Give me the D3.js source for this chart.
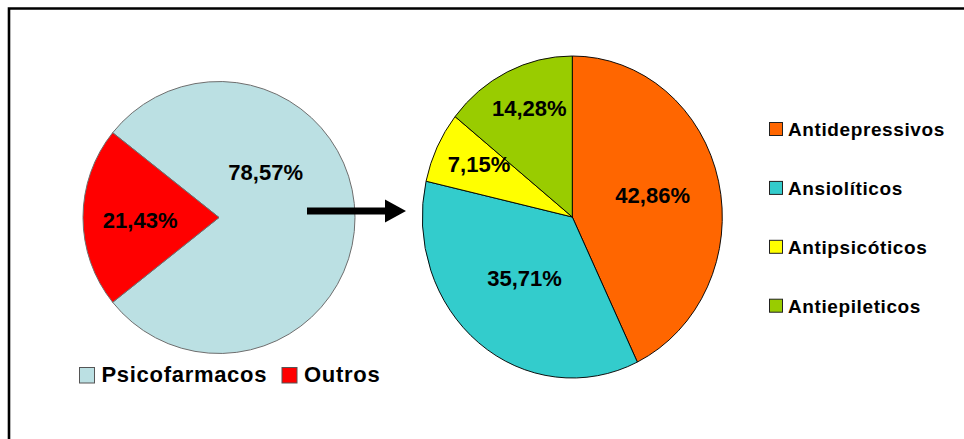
<!DOCTYPE html>
<html>
<head>
<meta charset="utf-8">
<script src="https://cdn.jsdelivr.net/npm/d3@7/dist/d3.min.js"></script>
<style>
  html, body { margin: 0; padding: 0; background: #fff; }
  svg { display: block; }
  text { font-family: "Liberation Sans", Arial, Helvetica, sans-serif; font-weight: bold; fill: #000; }
</style>
</head>
<body>
<svg id="chart" width="964" height="439"></svg>
<script>
// Share of prescriptions: psychotropic drugs vs. others
const groupCategories = ["Psicofarmacos", "Outros"];
const groupValues = [78.57, 21.43];
const groupColors = ["#BBE0E3", "#FF0000"];

// Breakdown of psychotropic drugs by class
const classCategories = ["Antidepressivos", "Ansiolíticos", "Antipsicóticos", "Antiepileticos"];
const classValues = [42.86, 35.71, 7.15, 14.28];
const classColors = ["#FF6600", "#33CCCC", "#FFFF00", "#99CC00"];

const svg = d3.select("#chart");
const ptBR = d3.formatLocale({ decimal: ",", thousands: ".", grouping: [3], currency: ["", ""] });
const pct = v => ptBR.format(".2f")(v) + "%";
const deg = d => d * Math.PI / 180;

// Outer frame (only top and left edges fall inside the view)
svg.append("path")
  .attr("d", "M9,445 V8.5 H970")
  .attr("fill", "none").attr("stroke", "#000").attr("stroke-width", 2.6);

// ---------- Left pie ----------
const left = { cx: 219, cy: 217.5, r: 136 };
const leftStart = Math.PI / 2 - (groupValues[0] / 100) * Math.PI; // first slice centred on the right
const leftPie = d3.pie().sort(null).startAngle(leftStart).endAngle(leftStart + 2 * Math.PI);
const leftArcs = leftPie(groupValues);
const leftArc = d3.arc().innerRadius(0).outerRadius(left.r);

const gL = svg.append("g").attr("transform", `translate(${left.cx},${left.cy})`);
gL.selectAll("path").data(leftArcs).join("path")
  .attr("d", leftArc)
  .attr("fill", (d, i) => groupColors[i])
  .attr("stroke", "#6e6e6e").attr("stroke-width", 1);

// label placement: [angle in degrees clockwise from top, fraction of radius]
const leftLabelPolar = [[45.6, 0.48], [268, 0.58]];
gL.selectAll("text").data(leftArcs).join("text")
  .attr("x", (d, i) => left.r * leftLabelPolar[i][1] * Math.sin(deg(leftLabelPolar[i][0])))
  .attr("y", (d, i) => -left.r * leftLabelPolar[i][1] * Math.cos(deg(leftLabelPolar[i][0])))
  .attr("dy", "0.36em")
  .attr("text-anchor", "middle")
  .style("font-size", "22px")
  .text(d => pct(d.value));

// Left legend
const legL = svg.append("g");
const legLItems = [{ sx: 79.5, tx: 101.5 }, { sx: 282, tx: 304 }];
groupCategories.forEach((c, i) => {
  legL.append("rect")
    .attr("x", legLItems[i].sx).attr("y", 367.5)
    .attr("width", 15).attr("height", 15.5)
    .attr("fill", groupColors[i]).attr("stroke", "#555").attr("stroke-width", 1);
  legL.append("text")
    .attr("x", legLItems[i].tx).attr("y", 382)
    .style("font-size", "22px").style("letter-spacing", "0.7px")
    .text(c);
});

// ---------- Arrow ----------
svg.append("path")
  .attr("d", "M307,207.5 H385 V199.5 L406,211 L385,222.5 V214.5 H307 Z")
  .attr("fill", "#000");

// ---------- Right pie (slightly taller than wide) ----------
const right = { cx: 572.3, cy: 217, rx: 150, ry: 161 };
const rightPie = d3.pie().sort(null).startAngle(0).endAngle(2 * Math.PI);
const rightArcs = rightPie(classValues);
const rightArc = d3.arc().innerRadius(0).outerRadius(right.rx);

const gR = svg.append("g")
  .attr("transform", `translate(${right.cx},${right.cy}) scale(1,${right.ry / right.rx})`);
gR.selectAll("path").data(rightArcs).join("path")
  .attr("d", rightArc)
  .attr("fill", (d, i) => classColors[i])
  .attr("stroke", "#000").attr("stroke-width", 0.9);

const rightLabelPolar = [[75.6, 0.553], [219.9, 0.497], [298, 0.704], [337, 0.733]];
svg.append("g").selectAll("text").data(rightArcs).join("text")
  .attr("x", (d, i) => right.cx + right.rx * rightLabelPolar[i][1] * Math.sin(deg(rightLabelPolar[i][0])))
  .attr("y", (d, i) => right.cy - right.ry * rightLabelPolar[i][1] * Math.cos(deg(rightLabelPolar[i][0])))
  .attr("dy", "0.36em")
  .attr("text-anchor", "middle")
  .style("font-size", "22px")
  .text(d => pct(d.value));

// Right legend
const legR = svg.append("g");
classCategories.forEach((c, i) => {
  const base = 136 + i * 58.9;
  legR.append("rect")
    .attr("x", 769.5).attr("y", base - 13.5)
    .attr("width", 13).attr("height", 13)
    .attr("fill", classColors[i]).attr("stroke", "#222").attr("stroke-width", 1);
  legR.append("text")
    .attr("x", 788).attr("y", base)
    .style("font-size", "19px").style("letter-spacing", "0.6px")
    .text(c);
});
</script>
</body>
</html>
